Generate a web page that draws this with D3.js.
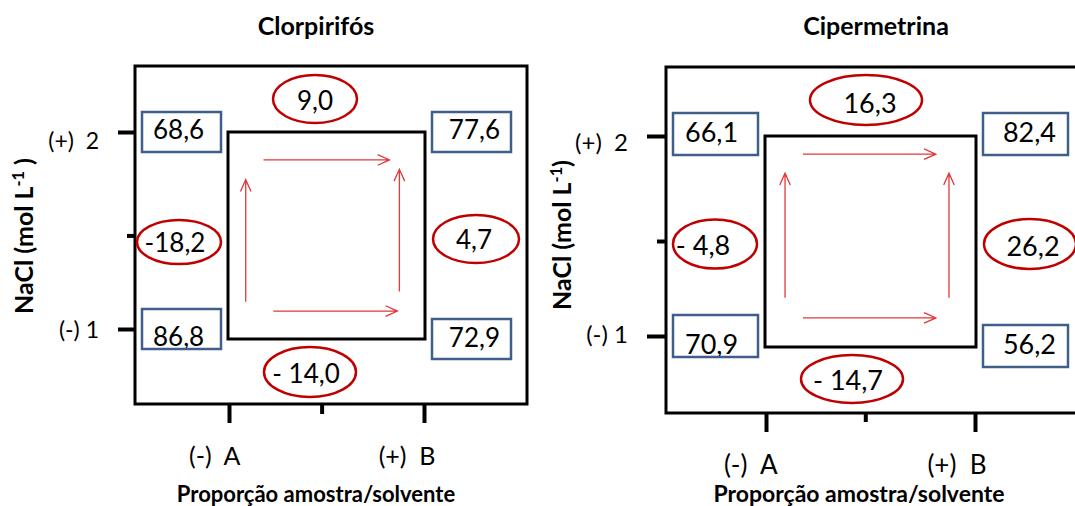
<!DOCTYPE html>
<html>
<head>
<meta charset="utf-8">
<script src="https://cdn.jsdelivr.net/npm/d3@7"></script>
<style>
  html, body { margin: 0; padding: 0; background: #fff; }
  svg { display: block; font-family: Lato, "Open Sans", sans-serif; }
  svg text { white-space: pre; }
</style>
</head>
<body>
<svg id="chart" width="1075" height="506"></svg>
<script>
// 2² factorial design: sample/solvent ratio (A, B) × NaCl concentration (1, 2)
const panelTitles = ["Clorpirifós", "Cipermetrina"];
const factorLevels = [1, 2];
const midTick = 1.475;
const xTickLabels = ["(-)  A", "(+)  B"];
const yTickLabels = ["(-) 1", "(+)  2"];
const xAxisTitle = "Proporção amostra/solvente";
const yAxisTitle = ["NaCl (mol L", "-1", ")"];

// responses at the corners of the design, order: A1, B1, A2, B2
const cornerLevels = [[1, 1], [2, 1], [1, 2], [2, 2]];
const clorpirifosResponse = [86.8, 72.9, 68.6, 77.6];
const cipermetrinaResponse = [70.9, 56.2, 66.1, 82.4];

// effects along the edges, order: top (NaCl 2), bottom (NaCl 1), left (A), right (B)
const edgeAnchors = [[1.5, 2], [1.5, 1], [1, 1.5], [2, 1.5]];
const clorpirifosEffect = [9.0, -14.0, -18.2, 4.7];
const cipermetrinaEffect = [16.3, -14.7, -4.8, 26.2];
const clorpirifosMinusGap = [false, true, false, false];
const cipermetrinaMinusGap = [false, true, true, false];

const numFormat = d3.formatLocale({ decimal: ",", thousands: ".", grouping: [3], currency: ["", ""] }).format(".1f");
const valueLabel = (v, gap) => v < 0 ? (gap ? "- " : "-") + numFormat(-v) : numFormat(v);

const panels = [
  {
    title: panelTitles[0], response: clorpirifosResponse, effect: clorpirifosEffect, minusGap: clorpirifosMinusGap,
    L: {
      frame: { x0: 135, x1: 527, y0: 66, y1: 404 },
      xRange: [229, 424], yRange: [329, 132],
      titleX: 316, titleSize: 25,
      yTick: { len: 17, midLen: 8, pad: 19, size: 23, drop: [8, 16] },
      xTick: { len: 19, midLen: 10, dx: 11, y: 61, size: 25 },
      xTitle: { x: 316, y: 502, size: 22 },
      yTitle: { x: 33, y: 236, size: 25, closing: " )" },
      innerBottom: 10,
      box: { w: 79, h: 40, gap: 8, shift: [0, 10, 0, 0], pad: 11, base: [37, 28, 27, 27], size: 26 },
      ell: [
        { dx: -11.5, dy: -33, rx: 42, ry: 24, tx: 0, ty: 11 },
        { dx: -16.5, dy: 43, rx: 46, ry: 25, tx: -4, ty: 11 },
        { dx: -50, dy: 11.5, rx: 42, ry: 22, tx: -4, ty: 10 },
        { dx: 52, dy: 8.5, rx: 43, ry: 24, tx: -2, ty: 10 }
      ],
      valueSize: 26,
      arrows: [
        [[0.18, 0.135], [0.82, 0.135]],
        [[0.23, 0.865], [0.86, 0.865]],
        [[0.09, 0.82], [0.09, 0.23]],
        [[0.87, 0.77], [0.87, 0.18]]
      ]
    }
  },
  {
    title: panelTitles[1], response: cipermetrinaResponse, effect: cipermetrinaEffect, minusGap: cipermetrinaMinusGap,
    L: {
      frame: { x0: 666, x1: 1090, y0: 67, y1: 413 },
      xRange: [766, 975], yRange: [336, 136],
      titleX: 876, titleSize: 25,
      yTick: { len: 19, midLen: 9, pad: 19, size: 24, drop: [6, 14] },
      xTick: { len: 19, midLen: 9, dx: 11, y: 61, size: 26 },
      xTitle: { x: 859, y: 502, size: 23 },
      yTitle: { x: 571, y: 235, size: 25, closing: ")" },
      innerBottom: 11,
      box: { w: 85, h: 42, gap: 8, shift: [0, 10, -2, -2], pad: 12, base: [39, 29, 29, 29], size: 27 },
      ell: [
        { dx: -4.5, dy: -36, rx: 56, ry: 25, tx: 4, ty: 13 },
        { dx: -18.5, dy: 43, rx: 51, ry: 24, tx: -4, ty: 11 },
        { dx: -51, dy: 8, rx: 42, ry: 24.5, tx: -12, ty: 11 },
        { dx: 55, dy: 8, rx: 46, ry: 25, tx: 3, ty: 12 }
      ],
      valueSize: 27,
      arrows: [
        [[0.18, 0.086], [0.81, 0.086]],
        [[0.18, 0.862], [0.81, 0.862]],
        [[0.095, 0.767], [0.095, 0.176]],
        [[0.872, 0.767], [0.872, 0.176]]
      ]
    }
  }
];

const svg = d3.select("#chart");
const RED = "#C00000", ARROW = "#E0393B", BLUE = "#3E5F8A";
const FONT = "Lato, 'Open Sans', sans-serif";

panels.forEach(p => {
  const L = p.L;
  const x = d3.scaleLinear().domain([1, 2]).range(L.xRange);
  const y = d3.scaleLinear().domain([1, 2]).range(L.yRange);
  const g = svg.append("g");

  // title
  g.append("text").attr("x", L.titleX).attr("y", 35)
    .attr("text-anchor", "middle").attr("font-weight", 700).attr("font-size", L.titleSize)
    .text(p.title);

  // outer frame
  const f = L.frame;
  g.append("rect").attr("x", f.x0).attr("y", f.y0)
    .attr("width", f.x1 - f.x0).attr("height", f.y1 - f.y0)
    .attr("fill", "none").attr("stroke", "#000").attr("stroke-width", 3);

  // y axis (NaCl)
  const yAxis = g.append("g").attr("transform", `translate(${f.x0},0)`)
    .call(d3.axisLeft(y).tickValues(factorLevels).tickSize(L.yTick.len)
      .tickPadding(L.yTick.pad).tickFormat((d, i) => yTickLabels[i]));
  g.append("g").attr("transform", `translate(${f.x0},0)`)
    .call(d3.axisLeft(y).tickValues([midTick]).tickSize(L.yTick.midLen).tickFormat(""));
  yAxis.selectAll("text")
    .attr("font-size", L.yTick.size).attr("font-family", FONT)
    .attr("dy", null).attr("y", (d, i) => L.yTick.drop[i]).attr("fill", "#000");

  // x axis (sample/solvent ratio)
  const xAxis = g.append("g").attr("transform", `translate(0,${f.y1})`)
    .call(d3.axisBottom(x).tickValues(factorLevels).tickSize(L.xTick.len)
      .tickFormat((d, i) => xTickLabels[i]));
  g.append("g").attr("transform", `translate(0,${f.y1})`)
    .call(d3.axisBottom(x).tickValues([midTick]).tickSize(L.xTick.midLen).tickFormat(""));
  xAxis.selectAll("text")
    .attr("font-size", L.xTick.size).attr("font-family", FONT)
    .attr("text-anchor", "end").attr("x", L.xTick.dx)
    .attr("dy", null).attr("y", L.xTick.y).attr("fill", "#000");

  g.selectAll(".domain").remove();
  g.selectAll(".tick line").attr("stroke", "#000").attr("stroke-width", 4);

  // axis titles
  g.append("text").attr("x", L.xTitle.x).attr("y", L.xTitle.y)
    .attr("text-anchor", "middle").attr("font-weight", 700).attr("font-size", L.xTitle.size)
    .text(xAxisTitle);
  const yt = g.append("text")
    .attr("transform", `translate(${L.yTitle.x},${L.yTitle.y}) rotate(-90)`)
    .attr("text-anchor", "middle").attr("font-weight", 700).attr("font-size", L.yTitle.size);
  yt.append("tspan").text(yAxisTitle[0]);
  yt.append("tspan").attr("font-size", L.yTitle.size * 0.65).attr("dy", -L.yTitle.size * 0.38).text(yAxisTitle[1]);
  yt.append("tspan").attr("dy", L.yTitle.size * 0.38).text(L.yTitle.closing);

  // inner square joining the four design points
  const ix0 = x(1) - 1, ix1 = x(2) + 1, iy0 = y(2), iy1 = y(1) + L.innerBottom;
  g.append("rect").attr("x", ix0).attr("y", iy0)
    .attr("width", ix1 - ix0).attr("height", iy1 - iy0)
    .attr("fill", "none").attr("stroke", "#000").attr("stroke-width", 3);

  // direction arrows inside the square
  const ax = d3.scaleLinear().domain([0, 1]).range([ix0, ix1]);
  const ay = d3.scaleLinear().domain([0, 1]).range([iy0, iy1]);
  L.arrows.forEach(([a, b]) => {
    const x1 = ax(a[0]), y1 = ay(a[1]), x2 = ax(b[0]), y2 = ay(b[1]);
    const ang = Math.atan2(y2 - y1, x2 - x1), hl = 13, hw = 0.42;
    const path = d3.path();
    path.moveTo(x1, y1); path.lineTo(x2, y2);
    path.moveTo(x2 - hl * Math.cos(ang - hw), y2 - hl * Math.sin(ang - hw));
    path.lineTo(x2, y2);
    path.lineTo(x2 - hl * Math.cos(ang + hw), y2 - hl * Math.sin(ang + hw));
    g.append("path").attr("d", path.toString())
      .attr("fill", "none").attr("stroke", ARROW).attr("stroke-width", 1.3);
  });

  // corner responses (boxes)
  const B = L.box;
  cornerLevels.forEach(([lx, ly], i) => {
    const isA = lx === 1;
    const bx = isA ? x(lx) - B.gap - B.w : x(lx) + B.gap;
    const by = y(ly) + B.shift[i] - B.h / 2;
    g.append("rect").attr("x", bx).attr("y", by).attr("width", B.w).attr("height", B.h)
      .attr("fill", "#fff");
    g.append("text")
      .attr("x", isA ? bx + B.pad : bx + B.w - B.pad)
      .attr("y", by + B.base[i])
      .attr("text-anchor", isA ? "start" : "end")
      .attr("font-size", B.size)
      .text(numFormat(p.response[i]));
    g.append("rect").attr("x", bx).attr("y", by).attr("width", B.w).attr("height", B.h)
      .attr("fill", "none").attr("stroke", BLUE).attr("stroke-width", 2.5);
  });

  // effects (ellipses)
  edgeAnchors.forEach(([fx, fy], i) => {
    const e = L.ell[i];
    const cx = x(fx) + e.dx, cy = y(fy) + e.dy;
    g.append("ellipse").attr("cx", cx).attr("cy", cy).attr("rx", e.rx).attr("ry", e.ry)
      .attr("fill", "#fff").attr("stroke", RED).attr("stroke-width", 2.5);
    g.append("text").attr("x", cx + e.tx).attr("y", cy + e.ty)
      .attr("text-anchor", "middle").attr("font-size", L.valueSize)
      .text(valueLabel(p.effect[i], p.minusGap[i]));
  });
});
</script>
</body>
</html>
